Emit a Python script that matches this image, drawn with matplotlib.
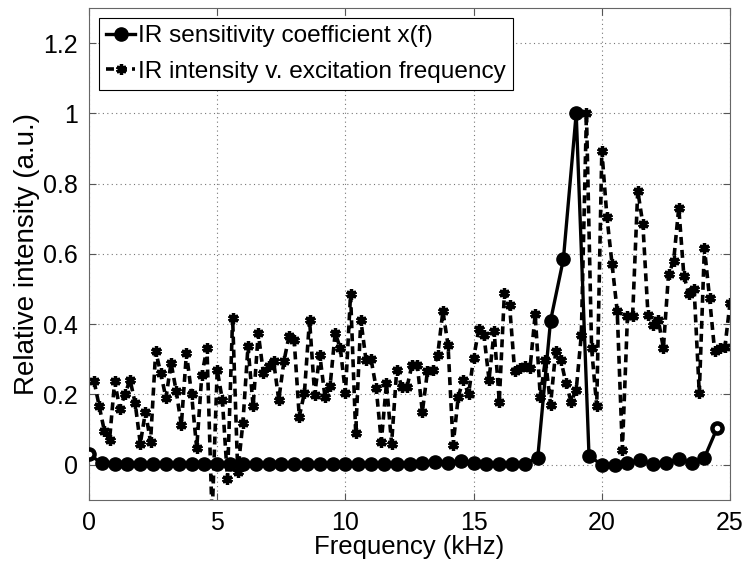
import numpy as np
import matplotlib.pyplot as plt

plt.rcParams['font.family'] = ['Liberation Sans', 'DejaVu Sans']

# IR sensitivity coefficient x(f), sampled every 0.5 kHz
f_coef = np.arange(0, 25, 0.5)
coef = [0.030, 0.004, 0.003, 0.003, 0.003, 0.003, 0.003, 0.003, 0.003, 0.003,
        0.003, 0.003, 0.003, 0.003, 0.003, 0.003, 0.003, 0.003, 0.003, 0.003,
        0.003, 0.003, 0.003, 0.003, 0.003, 0.003, 0.005, 0.008, 0.006, 0.012,
        0.005, 0.003, 0.003, 0.002, 0.003, 0.020, 0.410, 0.585, 1.000, 0.025,
        0.000, 0.000, 0.006, 0.013, 0.002, 0.006, 0.017, 0.006, 0.020, 0.105]

# IR intensity vs excitation frequency, sampled every 0.2 kHz
f_int = np.round(np.arange(1, 126) * 0.2, 1)
intensity = [0.237, 0.166, 0.096, 0.070, 0.237, 0.160, 0.200, 0.242, 0.175, 0.060,
             0.150, 0.066, 0.323, 0.260, 0.190, 0.290, 0.210, 0.113, 0.318, 0.200,
             0.047, 0.256, 0.332, -0.150, 0.270, 0.185, -0.040, 0.418, -0.020, 0.118,
             0.337, 0.166, 0.375, 0.261, 0.280, 0.294, 0.185, 0.294, 0.366, 0.356,
             0.137, 0.204, 0.413, 0.199, 0.313, 0.194, 0.223, 0.375, 0.332, 0.204,
             0.485, 0.090, 0.413, 0.299, 0.300, 0.218, 0.066, 0.232, 0.060, 0.270,
             0.221, 0.221, 0.285, 0.285, 0.151, 0.266, 0.270, 0.313, 0.437, 0.342,
             0.056, 0.194, 0.242, 0.200, 0.304, 0.385, 0.370, 0.242, 0.380, 0.180,
             0.489, 0.456, 0.266, 0.275, 0.280, 0.275, 0.428, 0.194, 0.299, 0.171,
             0.323, 0.299, 0.232, 0.180, 0.213, 0.370, 1.000, 0.332, 0.166, 0.894,
             0.704, 0.570, 0.437, 0.042, 0.423, 0.423, 0.780, 0.685, 0.427, 0.399,
             0.413, 0.332, 0.542, 0.580, 0.732, 0.537, 0.485, 0.500, 0.204, 0.618,
             0.475, 0.323, 0.332, 0.335, 0.461]

xticks = [0, 5, 10, 15, 20, 25]
yticks = [0, 0.2, 0.4, 0.6, 0.8, 1.0, 1.2]
ytick_labels = ['0', '0.2', '0.4', '0.6', '0.8', '1', '1.2']

fig = plt.figure(figsize=(7.48, 5.70), dpi=100, facecolor='w')
ax = fig.add_axes([0.119, 0.123, 0.857, 0.863])

ax.plot(f_coef, coef, '-', color='k', lw=2.4, marker='o', ms=9.5, mfc='k', mec='k',
        label='IR sensitivity coefficient x(f)', zorder=3)
# end points drawn as small open circles
ax.plot([f_coef[0], f_coef[-1]], [coef[0], coef[-1]], 'o', ms=6, mfc='w', mec='k',
        mew=2, zorder=4)
ax.plot(f_int, intensity, color='k', lw=2.6, dashes=(2.2, 1.4), marker=(6, 2, 0),
        ms=7.5, mew=2.4, label='IR intensity v. excitation frequency', zorder=2)

ax.set_xlim(0, 25)
ax.set_ylim(-0.1, 1.3)
ax.set_xticks(xticks)
ax.set_yticks(yticks)
ax.set_yticklabels(ytick_labels)
ax.tick_params(direction='in', length=5, labelsize=18, top=True, right=True,
               color='#555555', pad=8)
ax.grid(True, which='major', color='#777777', ls=(0, (1, 3)), lw=0.8)
for spine in ('top', 'right', 'bottom', 'left'):
    ax.spines[spine].set_color('#666666')

ax.set_xlabel('Frequency (kHz)', fontsize=18.5, labelpad=0)
ax.set_ylabel('Relative intensity (a.u.)', fontsize=20, labelpad=2)

legend = ax.legend(loc='upper left', fontsize=17.6, handlelength=1.2,
                   handletextpad=0.1, borderpad=0.3, labelspacing=0.55,
                   borderaxespad=0.4, fancybox=False, framealpha=1,
                   edgecolor='k')
legend.get_frame().set_linewidth(0.8)

plt.savefig('out.png', dpi=100)
